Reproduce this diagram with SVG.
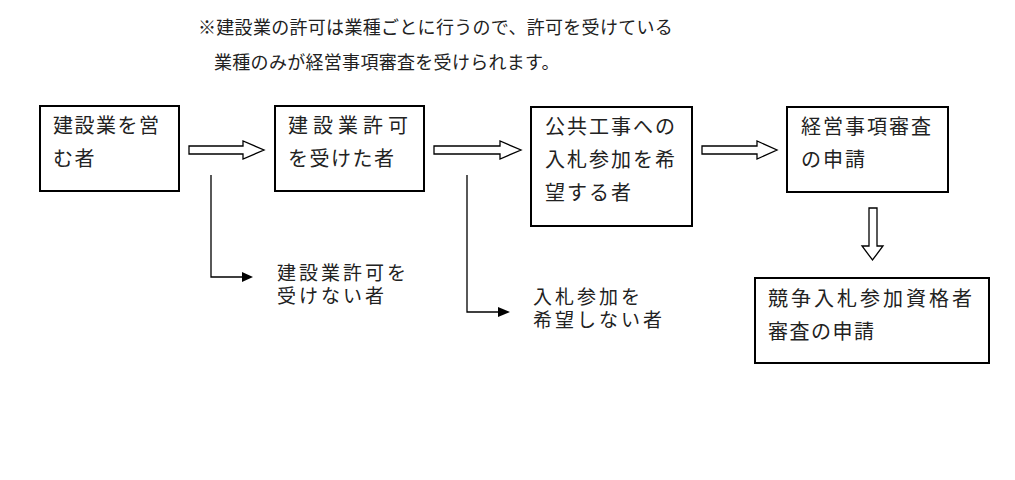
<svg xmlns="http://www.w3.org/2000/svg" width="1015" height="480" viewBox="0 0 1015 480">
<style>
text{font-family:"Liberation Sans","Noto Sans CJK JP","Noto Sans CJK SC",sans-serif;fill:#222}
.h{font-size:18px;letter-spacing:0.3px}
.t{font-size:20px;letter-spacing:1.5px}
.l{font-size:19px;letter-spacing:3px}
.box{fill:#fff;stroke:#000;stroke-width:2}
.hol{fill:#fff;stroke:#000;stroke-width:1.3;stroke-linejoin:miter}
.ln{fill:none;stroke:#000;stroke-width:1.3}
</style>
<rect width="1015" height="480" fill="#fff"/>
<g id="note">
<text class="h" x="198" y="34">※建設業の許可は業種ごとに行うので、許可を受けている</text>
<text class="h" x="214" y="69">業種のみが経営事項審査を受けられます。</text>
</g>
<g id="n1"><rect class="box" x="40" y="106" width="139" height="85"/>
<text class="t" x="53" y="133">建設業を営</text><text class="t" x="53" y="166">む者</text></g>
<g id="n2"><rect class="box" x="275" y="106" width="149" height="85"/>
<text class="t" x="288" y="133" style="letter-spacing:5px">建設業許可</text><text class="t" x="288" y="166">を受けた者</text></g>
<g id="n3"><rect class="box" x="531" y="107" width="161" height="119"/>
<text class="t" x="545" y="134" style="letter-spacing:2px">公共工事への</text><text class="t" x="545" y="167" style="letter-spacing:2px">入札参加を希</text><text class="t" x="545" y="200" style="letter-spacing:2px">望する者</text></g>
<g id="n4"><rect class="box" x="787" y="107" width="161" height="85"/>
<text class="t" x="801" y="134" style="letter-spacing:2px">経営事項審査</text><text class="t" x="801" y="167" style="letter-spacing:2px">の申請</text></g>
<g id="n5"><rect class="box" x="755" y="278" width="234" height="85"/>
<text class="t" x="768" y="306" style="letter-spacing:3px">競争入札参加資格者</text><text class="t" x="768" y="339">審査の申請</text></g>
<g id="n6"><text class="l" x="277" y="280">建設業許可を</text><text class="l" x="277" y="303">受けない者</text></g>
<g id="n7"><text class="l" x="533" y="304">入札参加を</text><text class="l" x="533" y="327">希望しない者</text></g>
<g id="connectors">
<polygon class="hol" points="189,146 243,146 243,141 264,150 243,159 243,154 189,154"/>
<polygon class="hol" points="434,146 500,146 500,141 521,150 500,159 500,154 434,154"/>
<polygon class="hol" points="702,146 757,146 757,141 777,150 757,159 757,154 702,154"/>
<polygon class="hol" points="869,208 877,208 877,246 883,246 872.5,260 862,246 869,246"/>
<path class="ln" d="M211 175V277H243"/>
<polygon points="242,272 253,277 242,282" fill="#000"/>
<path class="ln" d="M467 175V312H499"/>
<polygon points="498,307 510,312 498,317" fill="#000"/>
</g>
</svg>
